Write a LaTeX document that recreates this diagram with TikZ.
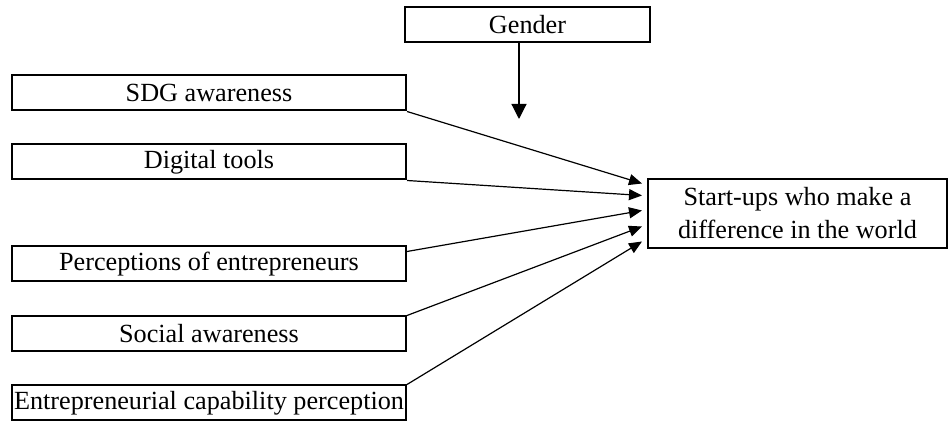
\documentclass[tikz,border=0pt]{standalone}
\usepackage{fontspec}
\setmainfont{Liberation Serif}
\usetikzlibrary{arrows.meta}
\begin{document}
\begin{tikzpicture}[
  x=0.5pt, y=-0.5pt,
  factor/.style={draw, line width=1pt, minimum width=197pt, minimum height=17.5pt, inner sep=0pt, font=\fontsize{13.1}{16.5}\selectfont},
  link/.style={line width=0.6pt, -{Triangle[length=6.5pt, width=5.5pt]}}
]
  \useasboundingbox (0,0) rectangle (949,421);

  % Moderator
  \node[factor, minimum width=122.5pt] (gender) at (527.5, 24.5) {Gender};
  \coordinate (gtip) at (519, 119);
  \draw[line width=0.6pt, -{Triangle[length=7.5pt, width=7.5pt]}] (gender.south -| gtip) -- (gtip);

  % Independent variables
  \node[factor] (sdg) at (209, 93) {SDG awareness};
  \node[factor] (digital) at (209, 162) {Digital tools};
  \node[factor] (percep) at (209, 264) {Perceptions of entrepreneurs};
  \node[factor] (social) at (209, 334) {Social awareness};
  \node[factor] (capab) at (209, 403) {Entrepreneurial capability perception};

  % Dependent variable
  \node[factor, minimum width=149.5pt, minimum height=34.5pt, align=center] (startup) at (797.5, 213.5)
    {Start-ups who make a\\difference in the world};

  \coordinate (in1) at ([xshift=-2.5pt, yshift=15pt]startup.west);
  \coordinate (in2) at ([xshift=-2.5pt, yshift=9pt]startup.west);
  \coordinate (in3) at ([xshift=-2.5pt, yshift=1.5pt]startup.west);
  \coordinate (in4) at ([xshift=-2.5pt, yshift=-6.5pt]startup.west);
  \coordinate (in5) at ([xshift=-2.5pt, yshift=-14pt]startup.west);

  \draw[link] (sdg.south east) -- (in1);
  \draw[link] (digital.south east) -- (in2);
  \draw[link] ([yshift=-3pt]percep.north east) -- (in3);
  \draw[link] (social.north east) -- (in4);
  \draw[link] (capab.north east) -- (in5);
\end{tikzpicture}
\end{document}
